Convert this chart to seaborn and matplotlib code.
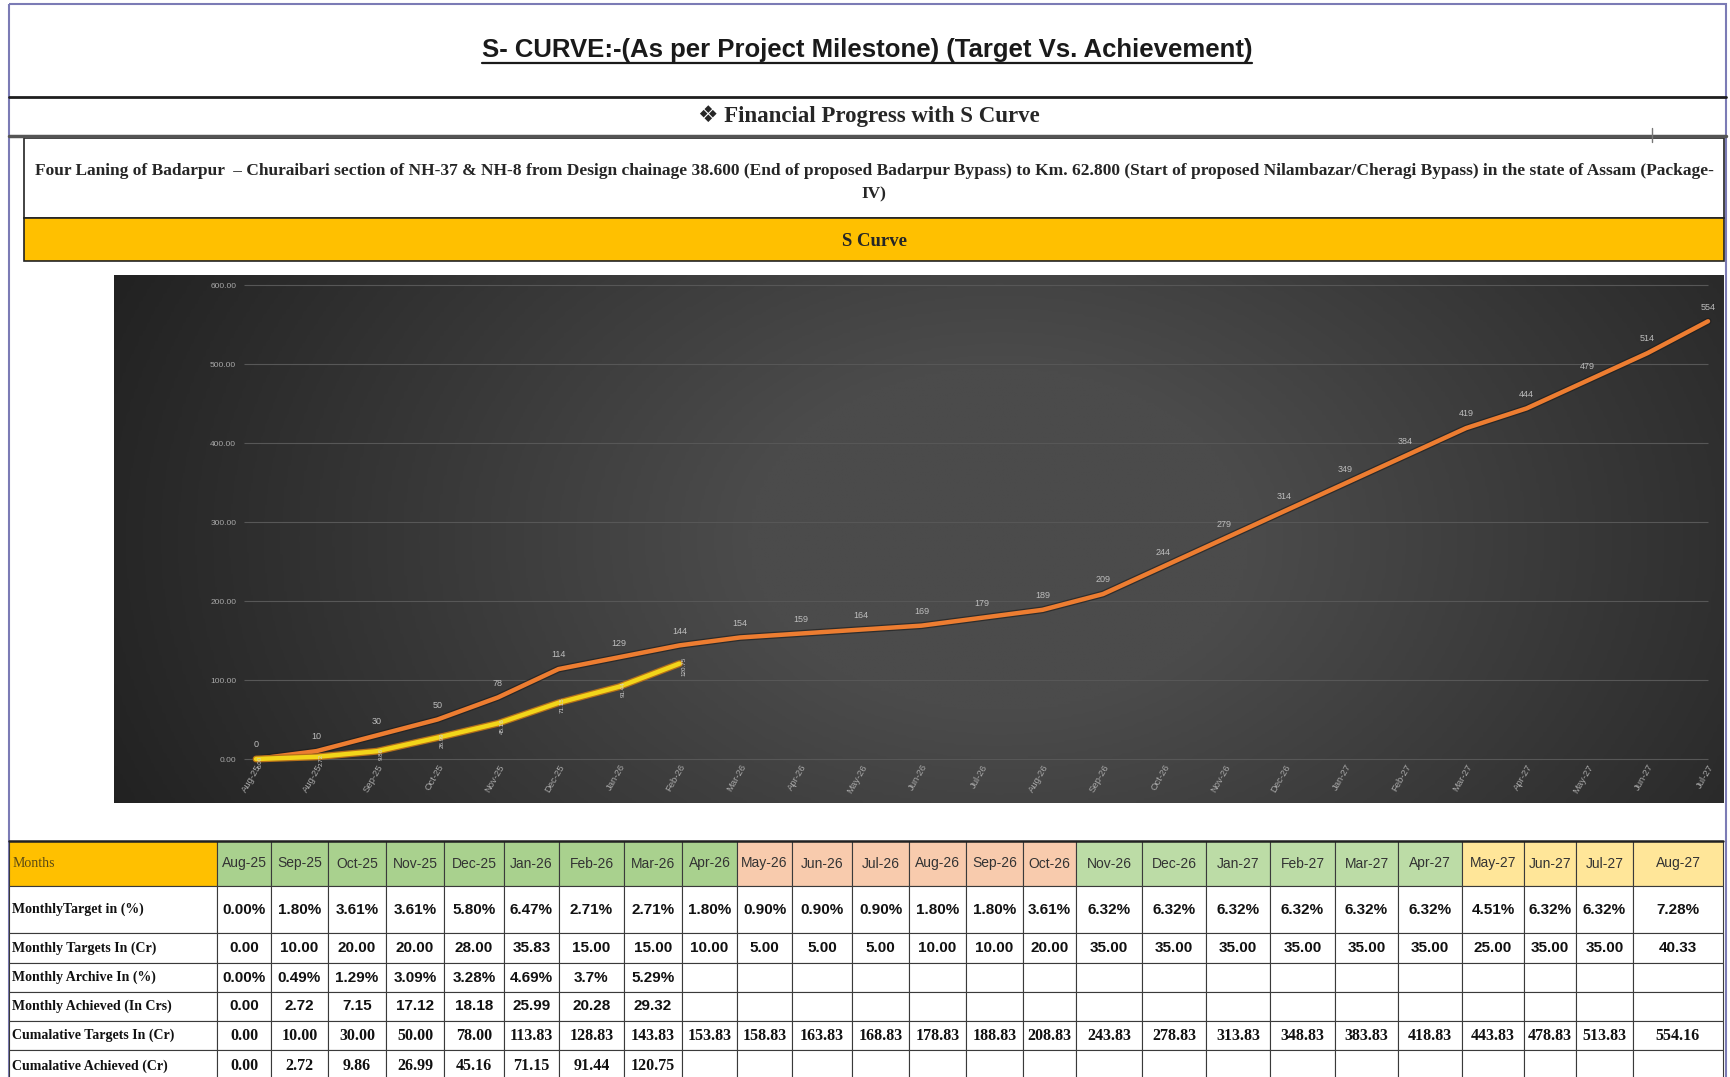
import numpy as np
import pandas as pd
import matplotlib
matplotlib.use("Agg")
import matplotlib.pyplot as plt
import matplotlib.patheffects as pe
from matplotlib.colors import LinearSegmentedColormap
from matplotlib.patches import Rectangle
from matplotlib.ticker import FormatStrFormatter
import seaborn as sns

# labels under the chart (the first month shows twice on the original)
chart_months = ["Aug-25", "Aug-25", "Sep-25", "Oct-25", "Nov-25", "Dec-25", "Jan-26", "Feb-26",
                "Mar-26", "Apr-26", "May-26", "Jun-26", "Jul-26", "Aug-26", "Sep-26", "Oct-26",
                "Nov-26", "Dec-26", "Jan-27", "Feb-27", "Mar-27", "Apr-27", "May-27", "Jun-27", "Jul-27"]
table_months = ["Aug-25", "Sep-25", "Oct-25", "Nov-25", "Dec-25", "Jan-26", "Feb-26", "Mar-26",
                "Apr-26", "May-26", "Jun-26", "Jul-26", "Aug-26", "Sep-26", "Oct-26", "Nov-26",
                "Dec-26", "Jan-27", "Feb-27", "Mar-27", "Apr-27", "May-27", "Jun-27", "Jul-27", "Aug-27"]

monthly_target_pct = [0.00, 1.80, 3.61, 3.61, 5.80, 6.47, 2.71, 2.71, 1.80, 0.90, 0.90, 0.90, 1.80,
                      1.80, 3.61, 6.32, 6.32, 6.32, 6.32, 6.32, 6.32, 4.51, 6.32, 6.32, 7.28]
monthly_target_cr = [0.00, 10.00, 20.00, 20.00, 28.00, 35.83, 15.00, 15.00, 10.00, 5.00, 5.00, 5.00,
                     10.00, 10.00, 20.00, 35.00, 35.00, 35.00, 35.00, 35.00, 35.00, 25.00, 35.00,
                     35.00, 40.33]
monthly_ach_pct = ["0.00%", "0.49%", "1.29%", "3.09%", "3.28%", "4.69%", "3.7%", "5.29%"]
monthly_ach_cr = [0.00, 2.72, 7.15, 17.12, 18.18, 25.99, 20.28, 29.32]
cum_target = [0.00, 10.00, 30.00, 50.00, 78.00, 113.83, 128.83, 143.83, 153.83, 158.83, 163.83,
              168.83, 178.83, 188.83, 208.83, 243.83, 278.83, 313.83, 348.83, 383.83, 418.83,
              443.83, 478.83, 513.83, 554.16]
cum_achieved = [0.00, 2.72, 9.86, 26.99, 45.16, 71.15, 91.44, 120.75]

row_labels = ["MonthlyTarget in (%)", "Monthly Targets In (Cr)", "Monthly Archive In (%)",
              "Monthly Achieved (In Crs)", "Cumalative Targets In (Cr)", "Cumalative Achieved (Cr)"]
header_colors = ["#A9D18E"] * 9 + ["#F8CBAD"] * 6 + ["#BCDCA6"] * 6 + ["#FFE699"] * 4

sns.set_theme(style="white")
plt.rcParams["font.family"] = ["Liberation Sans", "DejaVu Sans"]
sans = ["Liberation Sans", "DejaVu Sans"]
serif = ["Liberation Serif", "DejaVu Serif"]

W, H = 1730, 1077
fig = plt.figure(figsize=(W / 100, H / 100), dpi=100)
fig.patch.set_facecolor("white")

# full page canvas in pixel units (y down)
canvas = fig.add_axes([0, 0, 1, 1])
canvas.set_xlim(0, W)
canvas.set_ylim(H, 0)
canvas.axis("off")

canvas.add_patch(Rectangle((9, 4), 1717, 1100, fill=False, ec="#7b7bb5", lw=1.5))
title = canvas.text(867, 50, "S- CURVE:-(As per Project Milestone) (Target Vs. Achievement)",
                    ha="center", va="center", fontsize=18.5, fontweight="bold", family=sans,
                    color="#1a1a1a")
canvas.plot([9, 1726], [97, 97], color="#1e1e1e", lw=2)
canvas.text(869, 116, "\u2756 Financial Progress with S Curve", ha="center", va="center",
            fontsize=16.5, fontweight="bold", family=["Liberation Serif", "DejaVu Sans"])
canvas.plot([9, 1726], [136, 136], color="#555555", lw=2.5)
canvas.plot([1652, 1652], [128, 142], color="#777777", lw=1)

canvas.add_patch(Rectangle((24, 138), 1700, 80, fill=False, ec="#222222", lw=1.2))
project = ("Four Laning of Badarpur  \u2013 Churaibari section of NH-37 & NH-8 from Design chainage 38.600 "
           "(End of proposed Badarpur Bypass) to Km. 62.800 (Start of proposed Nilambazar/Cheragi Bypass) "
           "in the state of Assam (Package-")
canvas.text(874, 171, project, ha="center", va="center", fontsize=12.5, fontweight="bold", family=serif)
canvas.text(874, 194, "IV)", ha="center", va="center", fontsize=12.5, fontweight="bold", family=serif)
canvas.add_patch(Rectangle((24, 218), 1700, 43, fc="#FFC000", ec="#222222", lw=1.2))
canvas.text(874, 241, "S Curve", ha="center", va="center", fontsize=13.5, fontweight="bold", family=serif)

# ---- chart ----
x0, y0, x1, y1 = 114, 275, 1724, 803
pos = [x0 / W, 1 - y1 / H, (x1 - x0) / W, (y1 - y0) / H]
bg = fig.add_axes(pos)
bg.axis("off")
yy, xx = np.mgrid[0:1:200j, 0:1:400j]
r = np.sqrt(((xx - 0.55) / 0.62) ** 2 + ((yy - 0.5) / 1.3) ** 2)
bg_cmap = LinearSegmentedColormap.from_list("bg", ["#202020", "#4b4b4b"])
bg.imshow(np.clip(1 - r, 0, 1), cmap=bg_cmap, aspect="auto", extent=[0, 1, 0, 1], vmin=0, vmax=0.75)
bg.set_xlim(0, 1)
bg.set_ylim(0, 1)

ax = fig.add_axes(pos)
ax.set_facecolor("none")

df_target = pd.DataFrame({"idx": range(len(cum_target)), "value": cum_target})
df_ach = pd.DataFrame({"idx": range(len(cum_achieved)), "value": cum_achieved})

yticks = [0, 100, 200, 300, 400, 500, 600]
ax.hlines(yticks, -0.2, len(cum_target) - 1, color="#575757", lw=0.8, zorder=1)

shadow = [pe.Stroke(linewidth=5, foreground="#1a1a1a", alpha=0.6), pe.Normal()]
sns.lineplot(data=df_target, x="idx", y="value", ax=ax, color="#ED7D31", lw=3.2,
             path_effects=shadow, zorder=3)
sns.lineplot(data=df_ach, x="idx", y="value", ax=ax, color="#F2D51A", lw=3.2,
             path_effects=[pe.Stroke(linewidth=5, foreground="#B5701A"), pe.Normal()], zorder=4)

for i, v in enumerate(cum_target):
    ax.annotate(f"{v:.0f}", (i, v), xytext=(0, 7), textcoords="offset points", ha="center",
                va="bottom", fontsize=6.5, color="#bdbdbd")
for i, v in enumerate(cum_achieved):
    ax.annotate(f"{v:.2f}", (i, v), xytext=(3, -2), textcoords="offset points", ha="center",
                va="center", rotation=90, fontsize=4.5, color="#d0d0d0", zorder=5)

ax.set_xlim(-2.347, 24.264)
ax.set_ylim(-55.7, 612.7)
ax.set_xlabel("")
ax.set_ylabel("")
for s in ax.spines.values():
    s.set_visible(False)
ax.set_yticks(yticks)
ax.yaxis.set_major_formatter(FormatStrFormatter("%.2f"))
ax.tick_params(axis="y", pad=-88, length=0, labelsize=6, labelcolor="#a8a8a8")
ax.set_xticks(range(len(chart_months)))
ax.set_xticklabels(chart_months)
ax.tick_params(axis="x", pad=-29, length=0, labelsize=6.8, labelcolor="#a8a8a8")
plt.setp(ax.get_xticklabels(), rotation=60, ha="right", rotation_mode="anchor")
ax.grid(False)

# ---- table ----
col_edges = [9, 217, 271, 328, 386, 444, 504, 559, 624, 682, 737, 792, 852, 909, 966, 1023,
             1076, 1142, 1206, 1270, 1335, 1398, 1462, 1524, 1576, 1633, 1723]
row_edges = [841, 886, 933, 963, 992, 1021, 1050, 1082]
line_c = "#3a3a3a"

canvas.add_patch(Rectangle((col_edges[0], row_edges[0]), col_edges[1] - col_edges[0],
                           row_edges[1] - row_edges[0], fc="#FFC000", ec=line_c, lw=0.8))
canvas.text(col_edges[0] + 4, (row_edges[0] + row_edges[1]) / 2, "Months", ha="left", va="center",
            fontsize=10, family=serif, color="#5b4a14")
for j, m in enumerate(table_months):
    cx0, cx1 = col_edges[j + 1], col_edges[j + 2]
    canvas.add_patch(Rectangle((cx0, row_edges[0]), cx1 - cx0, row_edges[1] - row_edges[0],
                               fc=header_colors[j], ec=line_c, lw=0.8))
    canvas.text((cx0 + cx1) / 2, (row_edges[0] + row_edges[1]) / 2, m, ha="center", va="center",
                fontsize=10, family=sans, color="#333333")

rows = [
    [f"{v:.2f}%" for v in monthly_target_pct],
    [f"{v:.2f}" for v in monthly_target_cr],
    monthly_ach_pct,
    [f"{v:.2f}" for v in monthly_ach_cr],
    [f"{v:.2f}" for v in cum_target],
    [f"{v:.2f}" for v in cum_achieved],
]
row_fonts = [sans, sans, sans, sans, serif, serif]
row_sizes = [11, 11, 11, 11, 11.5, 11.5]

for k, (label, vals) in enumerate(zip(row_labels, rows)):
    ry0, ry1 = row_edges[k + 1], row_edges[k + 2]
    cy = (ry0 + ry1) / 2
    canvas.add_patch(Rectangle((col_edges[0], ry0), col_edges[1] - col_edges[0], ry1 - ry0,
                               fc="white", ec=line_c, lw=0.8))
    canvas.text(col_edges[0] + 3, cy, label, ha="left", va="center", fontsize=10,
                fontweight="bold", family=serif, color="#111111")
    for j in range(len(table_months)):
        cx0, cx1 = col_edges[j + 1], col_edges[j + 2]
        canvas.add_patch(Rectangle((cx0, ry0), cx1 - cx0, ry1 - ry0, fc="white", ec=line_c, lw=0.8))
        if j < len(vals):
            canvas.text((cx0 + cx1) / 2, cy, vals[j], ha="center", va="center",
                        fontsize=row_sizes[k], fontweight="bold", family=row_fonts[k], color="#111111")
canvas.plot([col_edges[0], col_edges[-1]], [row_edges[0], row_edges[0]], color="#222222", lw=1.8)

# underline for the page title
fig.canvas.draw()
bb = title.get_window_extent()
inv = canvas.transData.inverted()
(ux0, uy0), (ux1, uy1) = inv.transform([[bb.x0, bb.y0], [bb.x1, bb.y1]])
canvas.plot([ux0, ux1], [uy0 + 1, uy0 + 1], color="#1a1a1a", lw=1.6)

fig.savefig("out.png", dpi=100)
